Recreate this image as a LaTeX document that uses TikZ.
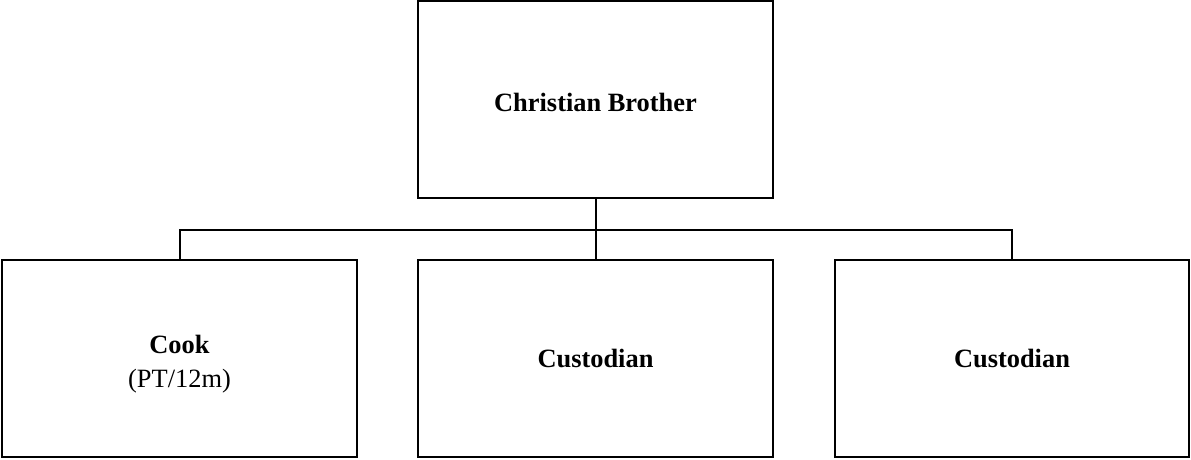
\documentclass[tikz,border=0pt]{standalone}
\usepackage{fontspec}
\setmainfont{Liberation Serif}
\begin{document}
\begin{tikzpicture}[x=1pt,y=1pt,
  box/.style={draw=black,line width=2pt,rectangle,inner sep=0pt,
    minimum width=355pt,minimum height=197pt,align=center,
    font=\fontsize{26.4}{34}\selectfont},
  link/.style={draw=black,line width=2pt}]
\useasboundingbox (0,0) rectangle (1191,460);
\node[box] (top) at (595.5,360) {\rule{0pt}{24pt}\textbf{Christian Brother}};
\node[box] (cook) at (179.5,101) {\rule{0pt}{28pt}\textbf{Cook}\\(PT/12m)};
\node[box] (cust1) at (595.5,101) {\textbf{Custodian}};
\node[box,minimum width=354pt] (cust2) at (1012,101) {\textbf{Custodian}};
\coordinate (bar) at (0,230);
\draw[link] (top.south) -- (cust1.north);
\draw[link] (cook.north) -- (cook.north |- bar) -- (cust2.north |- bar) -- (cust2.north);
\end{tikzpicture}
\end{document}
